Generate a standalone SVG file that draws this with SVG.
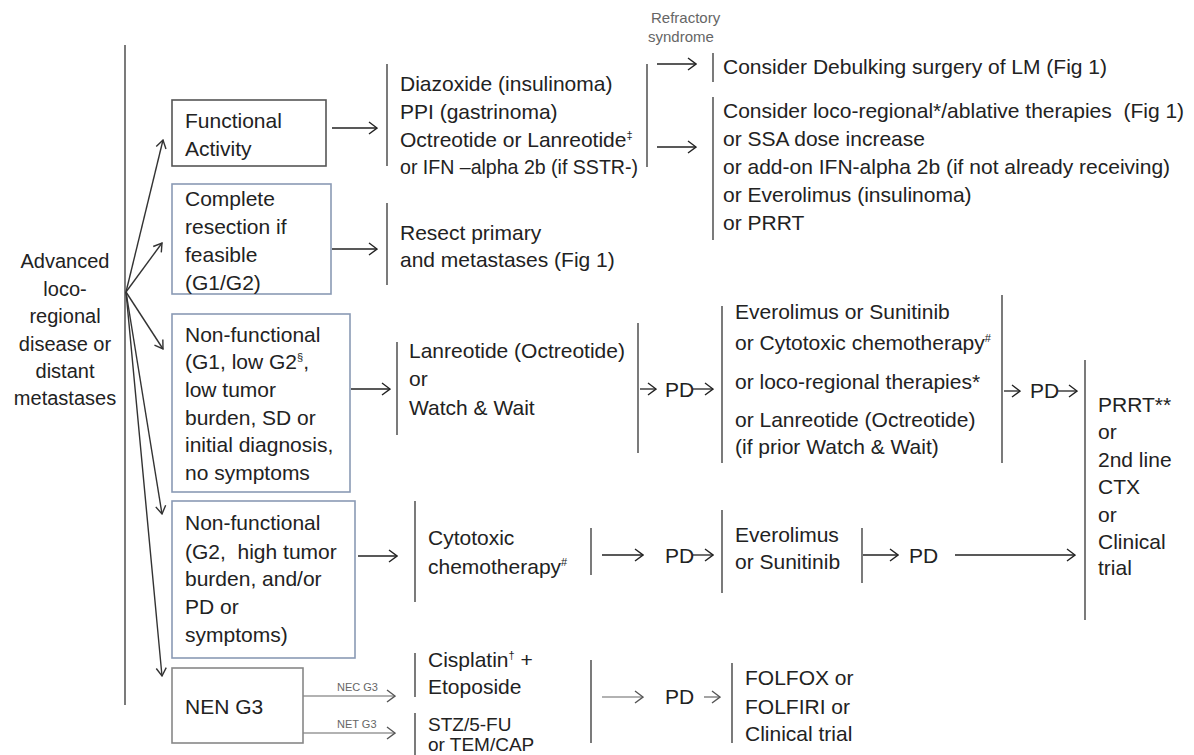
<svg xmlns="http://www.w3.org/2000/svg" width="1194" height="755" viewBox="0 0 1194 755">
<style>
text{font-family:"Liberation Sans",Arial,sans-serif;font-size:21px;fill:#222}
.l{font-size:20px}
.s{font-size:15px;fill:#666}
.xs{font-size:11px;fill:#666}
.sup{font-size:11px}
.sm{font-size:19px}
.bar{stroke:#333;stroke-width:1.3;fill:none}
.c{stroke:#222;stroke-width:1.3;fill:none;marker-end:url(#ah)}
.cg{stroke:#666;stroke-width:1.2;fill:none;marker-end:url(#ahg)}
.f{stroke:#333;stroke-width:1.4;fill:none;marker-end:url(#ahs)}
.bx{fill:#fff;stroke-width:1.6}
</style>
<defs>
<marker id="ah" viewBox="0 0 10 14" markerWidth="10" markerHeight="14" refX="9" refY="7" orient="auto" markerUnits="userSpaceOnUse"><path d="M1,1 L9,7 L1,13" fill="none" stroke="#222" stroke-width="1.4"/></marker>
<marker id="ahg" viewBox="0 0 10 14" markerWidth="10" markerHeight="14" refX="9" refY="7" orient="auto" markerUnits="userSpaceOnUse"><path d="M1,1 L9,7 L1,13" fill="none" stroke="#555" stroke-width="1.4"/></marker>
<marker id="ahs" viewBox="0 0 10 12" markerWidth="10" markerHeight="12" refX="9" refY="6" orient="auto" markerUnits="userSpaceOnUse"><path d="M1,1 L9,6 L1,11" fill="none" stroke="#333" stroke-width="1.4"/></marker>
</defs>
<rect width="1194" height="755" fill="#fff"/>

<g id="start">
<line class="bar" x1="125" y1="45" x2="125" y2="705"/>
<text class="l" text-anchor="middle"><tspan x="65" y="268">Advanced</tspan><tspan x="65" y="296">loco-</tspan><tspan x="65" y="323">regional</tspan><tspan x="65" y="351">disease or</tspan><tspan x="65" y="378">distant</tspan><tspan x="65" y="405">metastases</tspan></text>
</g>

<g id="connectors">
<path class="f" d="M126,292 L163,140"/>
<path class="f" d="M126,292 L162,243"/>
<path class="f" d="M126,292 L163,349"/>
<path class="f" d="M126,292 L162,514"/>
<path class="f" d="M126,292 L162,676"/>
<path class="c" d="M332,128 H377"/>
<path class="c" d="M657,64 H696"/>
<path class="c" d="M657,147 H696"/>
<path class="c" d="M332,249 H377"/>
<path class="c" d="M351,389 H390"/>
<path class="c" d="M640,389 H656"/>
<path class="c" d="M693,389 H713"/>
<path class="c" d="M1004,391 H1020"/>
<path class="c" d="M1058,391 H1077"/>
<path class="c" d="M358,556 H397"/>
<path class="c" d="M602,555 H643"/>
<path class="c" d="M693,555 H713"/>
<path class="c" d="M863,555 H898"/>
<path class="c" d="M955,555 H1075"/>
<path class="cg" d="M303,696 H395"/>
<path class="cg" d="M303,733 H395"/>
<path class="cg" d="M602,697 H643"/>
<path class="cg" d="M704,697 H720"/>
</g>

<g id="functional">
<rect class="bx" x="172" y="100" width="154" height="66" stroke="#555"/>
<text><tspan x="185" y="128">Functional</tspan><tspan x="185" y="156">Activity</tspan></text>
</g>

<g id="functional-tx">
<line class="bar" x1="387" y1="64" x2="387" y2="166"/>
<text><tspan x="400" y="91">Diazoxide (insulinoma)</tspan><tspan x="400" y="119">PPI (gastrinoma)</tspan><tspan x="400" y="147">Octreotide or Lanreotide<tspan class="sup" dy="-8">‡</tspan></tspan></text>
<text x="400" y="174" textLength="238" lengthAdjust="spacingAndGlyphs">or IFN –alpha 2b (if SSTR-)</text>
<line class="bar" x1="647" y1="64" x2="647" y2="167"/>
</g>

<g id="refractory">
<text class="s"><tspan x="651" y="23">Refractory</tspan><tspan x="648" y="42">syndrome</tspan></text>
</g>

<g id="debulking">
<line class="bar" x1="713" y1="53" x2="713" y2="82"/>
<text x="723" y="74">Consider Debulking surgery of LM (Fig 1)</text>
</g>

<g id="locoregional">
<line class="bar" x1="713" y1="97" x2="713" y2="240"/>
<text xml:space="preserve"><tspan x="723" y="118">Consider loco-regional*/ablative therapies  (Fig 1)</tspan><tspan x="723" y="146">or SSA dose increase</tspan><tspan x="723" y="174">or add-on IFN-alpha 2b (if not already receiving)</tspan><tspan x="723" y="202">or Everolimus (insulinoma)</tspan><tspan x="723" y="230">or PRRT</tspan></text>
</g>

<g id="resection">
<rect class="bx" x="172" y="184" width="159" height="110" stroke="#8a9ab5"/>
<text><tspan x="185" y="206">Complete</tspan><tspan x="185" y="234">resection if</tspan><tspan x="185" y="262">feasible</tspan><tspan x="185" y="290">(G1/G2)</tspan></text>
</g>

<g id="resect-tx">
<line class="bar" x1="387" y1="203" x2="387" y2="285"/>
<text><tspan x="400" y="240">Resect primary</tspan><tspan x="400" y="267">and metastases (Fig 1)</tspan></text>
</g>

<g id="nonfunc1">
<rect class="bx" x="172" y="314" width="178" height="178" stroke="#8a9ab5"/>
<text><tspan x="185" y="342">Non-functional</tspan><tspan x="185" y="369">(G1, low G2<tspan class="sup" dy="-8">§</tspan><tspan dy="8">,</tspan></tspan><tspan x="185" y="397">low tumor</tspan><tspan x="185" y="425">burden, SD or</tspan><tspan x="185" y="452">initial diagnosis,</tspan><tspan x="185" y="480">no symptoms</tspan></text>
</g>

<g id="lanreotide">
<line class="bar" x1="397" y1="342" x2="397" y2="435"/>
<text><tspan x="409" y="358">Lanreotide (Octreotide)</tspan><tspan x="409" y="386">or</tspan><tspan x="409" y="415">Watch &amp; Wait</tspan></text>
<line class="bar" x1="638" y1="323" x2="638" y2="453"/>
</g>

<g id="pd1"><text x="665" y="397">PD</text></g>

<g id="second-line">
<line class="bar" x1="722" y1="306" x2="722" y2="463"/>
<text><tspan x="735" y="319">Everolimus or Sunitinib</tspan><tspan x="735" y="350">or Cytotoxic chemotherapy<tspan class="sup" dy="-8">#</tspan></tspan><tspan x="735" y="389">or loco-regional therapies*</tspan><tspan x="735" y="427">or Lanreotide (Octreotide)</tspan><tspan x="735" y="454">(if prior Watch &amp; Wait)</tspan></text>
<line class="bar" x1="1002" y1="295" x2="1002" y2="463"/>
</g>

<g id="pd2"><text x="1030" y="398">PD</text></g>

<g id="prrt">
<line class="bar" x1="1085" y1="360" x2="1085" y2="620"/>
<text><tspan x="1098" y="412">PRRT**</tspan><tspan x="1098" y="439">or</tspan><tspan x="1098" y="467">2nd line</tspan><tspan x="1098" y="494">CTX</tspan><tspan x="1098" y="522">or</tspan><tspan x="1098" y="549">Clinical</tspan><tspan x="1098" y="575">trial</tspan></text>
</g>

<g id="nonfunc2">
<rect class="bx" x="172" y="501" width="183" height="157" stroke="#8a9ab5"/>
<text xml:space="preserve"><tspan x="185" y="530">Non-functional</tspan><tspan x="185" y="559">(G2,  high tumor</tspan><tspan x="185" y="586">burden, and/or</tspan><tspan x="185" y="614">PD or</tspan><tspan x="185" y="642">symptoms)</tspan></text>
</g>

<g id="cytotoxic">
<line class="bar" x1="415" y1="501" x2="415" y2="602"/>
<text><tspan x="428" y="545">Cytotoxic</tspan><tspan x="428" y="574">chemotherapy<tspan class="sup" dy="-8">#</tspan></tspan></text>
<line class="bar" x1="591" y1="528" x2="591" y2="575"/>
</g>

<g id="pd3"><text x="665" y="563">PD</text></g>

<g id="everolimus">
<line class="bar" x1="722" y1="510" x2="722" y2="593"/>
<text><tspan x="735" y="542">Everolimus</tspan><tspan x="735" y="569">or Sunitinib</tspan></text>
<line class="bar" x1="862" y1="528" x2="862" y2="583"/>
</g>

<g id="pd4"><text x="909" y="563">PD</text></g>

<g id="nen">
<rect class="bx" x="172" y="668" width="131" height="75" stroke="#888"/>
<text x="185" y="714">NEN G3</text>
<text class="xs" x="337" y="691">NEC G3</text>
<text class="xs" x="337" y="728">NET G3</text>
</g>

<g id="cisplatin">
<line class="bar" x1="415" y1="653" x2="415" y2="697"/>
<text><tspan x="428" y="667">Cisplatin<tspan class="sup" dy="-8">†</tspan><tspan dy="8"> +</tspan></tspan><tspan x="428" y="694">Etoposide</tspan></text>
</g>

<g id="stz">
<line class="bar" x1="415" y1="713" x2="415" y2="755"/>
<text class="sm"><tspan x="428" y="731">STZ/5-FU</tspan><tspan x="428" y="751">or TEM/CAP</tspan></text>
<line class="bar" x1="591" y1="660" x2="591" y2="743"/>
</g>

<g id="pd5"><text x="665" y="704">PD</text></g>

<g id="folfox">
<line class="bar" x1="732" y1="663" x2="732" y2="743"/>
<text><tspan x="745" y="685">FOLFOX or</tspan><tspan x="745" y="714">FOLFIRI or</tspan><tspan x="745" y="741">Clinical trial</tspan></text>
</g>
</svg>
